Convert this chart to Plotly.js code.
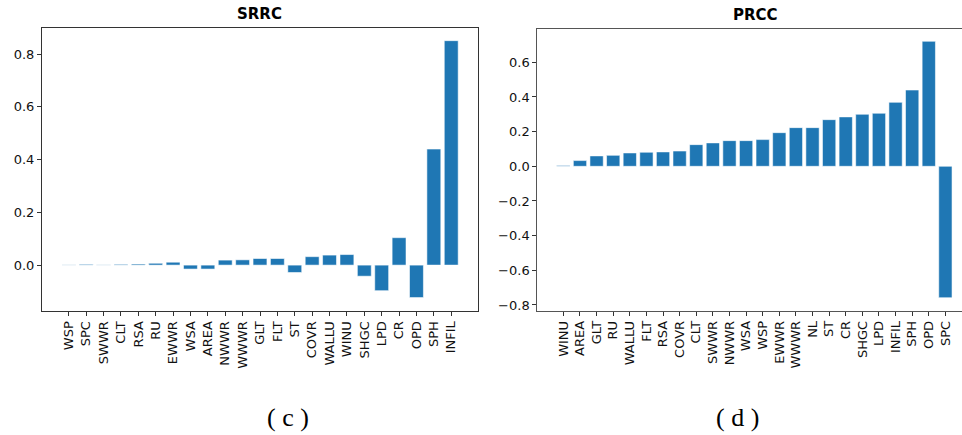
<!DOCTYPE html>
<html>
<head>
<meta charset="utf-8">
<script src="https://cdn.plot.ly/plotly-3.0.1.min.js"></script>
<style>html,body{margin:0;padding:0;background:#fff;}#chart{width:962px;height:435px;}</style>
</head>
<body>
<div id="chart"></div>
<script>
// SRRC (panel c)
const srrcLabels = ["WSP","SPC","SWWR","CLT","RSA","RU","EWWR","WSA","AREA","NWWR","WWWR","GLT","FLT","ST","COVR","WALLU","WINU","SHGC","LPD","CR","OPD","SPH","INFIL"];
const srrcValues = [0.001,0.003,0.001,0.003,0.004,0.007,0.011,-0.015,-0.015,0.019,0.020,0.025,0.025,-0.028,0.032,0.038,0.040,-0.042,-0.097,0.104,-0.123,0.440,0.851];

// PRCC (panel d)
const prccLabels = ["WINU","AREA","GLT","RU","WALLU","FLT","RSA","COVR","CLT","SWWR","NWWR","WSA","WSP","EWWR","WWWR","NL","ST","CR","SHGC","LPD","INFIL","SPH","OPD","SPC"];
const prccValues = [0.004,0.033,0.060,0.063,0.077,0.081,0.083,0.088,0.125,0.135,0.148,0.148,0.154,0.194,0.223,0.223,0.269,0.285,0.300,0.306,0.369,0.440,0.721,-0.758];

const panelTitles = ["SRRC","PRCC"];
const captions = ["( c )","( d )"];

const W = 962, H = 435;
const barColor = "#1f77b4";
const edge = {color: "rgba(255,255,255,0.55)", width: 1};
const tickFont = {family: "DejaVu Sans", size: 13, color: "#111"};

const traces = [
  {type: "bar", x: srrcLabels.map((_, i) => i), y: srrcValues, marker: {color: barColor, line: edge}, xaxis: "x", yaxis: "y", hoverinfo: "x+y"},
  {type: "bar", x: prccLabels.map((_, i) => i), y: prccValues, marker: {color: barColor, line: edge}, xaxis: "x2", yaxis: "y2", hoverinfo: "x+y"}
];

const axBase = {
  showgrid: false, zeroline: false, showline: true, linewidth: 1,
  ticks: "outside", ticklen: 4, tickwidth: 1, tickfont: tickFont, automargin: false
};

const layout = {
  width: W, height: H,
  margin: {l: 0, r: 0, t: 0, b: 0},
  paper_bgcolor: "#fff", plot_bgcolor: "#fff",
  showlegend: false, bargap: 0.2,
  xaxis: Object.assign({}, axBase, {
    domain: [42 / W, 478 / W], range: [-1.54, 23.54],
    tickmode: "array", tickvals: srrcLabels.map((_, i) => i), ticktext: srrcLabels,
    tickangle: -90, mirror: true, linecolor: "#333", tickcolor: "#333", anchor: "y"
  }),
  yaxis: Object.assign({}, axBase, {
    domain: [1 - 311 / H, 1 - 28 / H], range: [-0.174, 0.899],
    tickmode: "array", tickvals: [0, 0.2, 0.4, 0.6, 0.8], tickformat: ".1f",
    mirror: true, linecolor: "#333", tickcolor: "#333", anchor: "x"
  }),
  xaxis2: Object.assign({}, axBase, {
    domain: [537.3 / W, 1], range: [-1.57, 24.0],
    tickmode: "array", tickvals: prccLabels.map((_, i) => i), ticktext: prccLabels,
    tickangle: -90, mirror: true, linecolor: "#555", tickcolor: "#333", anchor: "y2"
  }),
  yaxis2: Object.assign({}, axBase, {
    domain: [1 - 310.7 / H, 1 - 29 / H], range: [-0.833, 0.792],
    tickmode: "array", tickvals: [-0.8, -0.6, -0.4, -0.2, 0, 0.2, 0.4, 0.6], tickformat: ".1f",
    mirror: false, linecolor: "#555", tickcolor: "#333", anchor: "x2"
  }),
  annotations: [
    {text: "<b>" + panelTitles[0] + "</b>", xref: "paper", yref: "paper", x: 259 / W, y: 1 - 14.5 / H, xanchor: "center", yanchor: "middle", showarrow: false, font: {family: "DejaVu Sans", size: 15, color: "#000"}},
    {text: "<b>" + panelTitles[1] + "</b>", xref: "paper", yref: "paper", x: 755 / W, y: 1 - 15 / H, xanchor: "center", yanchor: "middle", showarrow: false, font: {family: "DejaVu Sans", size: 15, color: "#000"}},
    {text: captions[0], xref: "paper", yref: "paper", x: 288 / W, y: 1 - 417 / H, xanchor: "center", yanchor: "middle", showarrow: false, font: {family: "Liberation Serif", size: 26, color: "#000"}},
    {text: captions[1], xref: "paper", yref: "paper", x: 737 / W, y: 1 - 417 / H, xanchor: "center", yanchor: "middle", showarrow: false, font: {family: "Liberation Serif", size: 26, color: "#000"}}
  ]
};

Plotly.newPlot("chart", traces, layout, {staticPlot: true, displayModeBar: false});
</script>
</body>
</html>
